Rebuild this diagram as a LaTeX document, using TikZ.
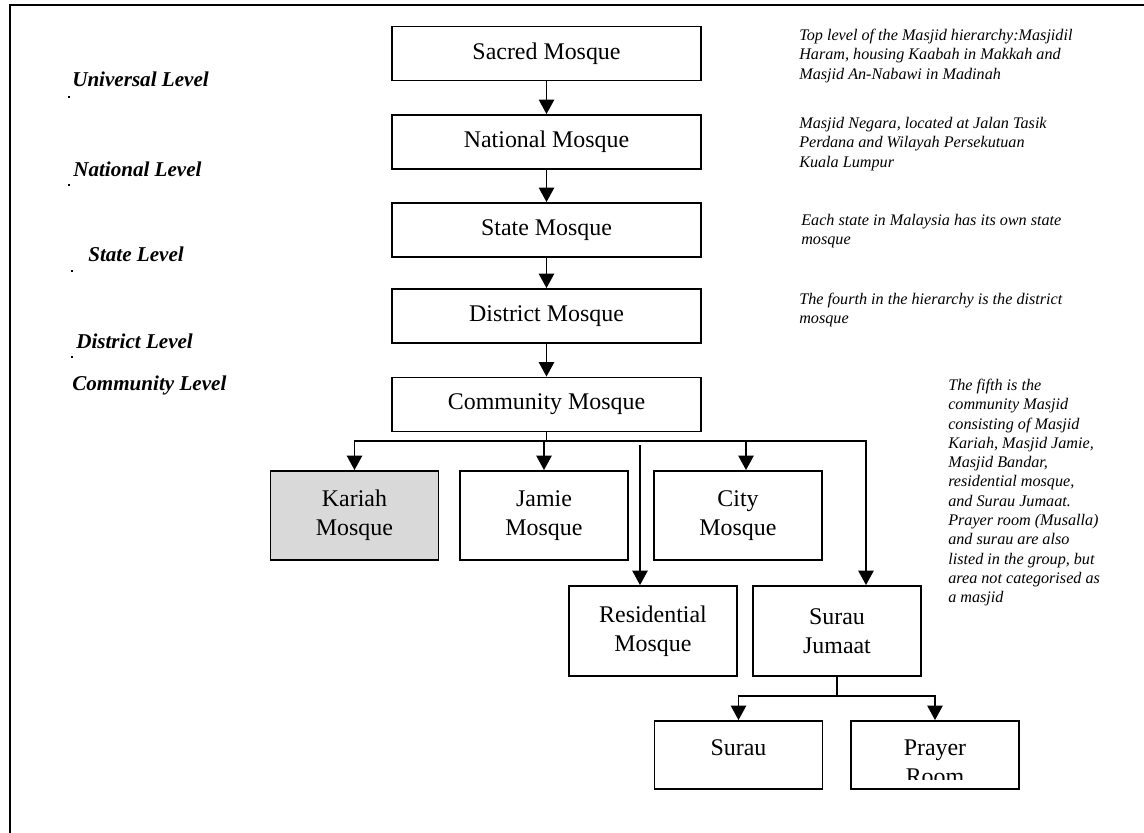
\documentclass[tikz,border=0pt]{standalone}
\usepackage{fontspec}
\setmainfont{Liberation Serif}
\usetikzlibrary{arrows.meta}

\tikzset{
  mosque/.style={draw, line width=1.3pt, minimum width=7.725cm, minimum height=1.35cm,
    align=center, font=\fontsize{17}{20.5}\selectfont},
  midmosque/.style={mosque, minimum width=4.2cm, minimum height=2.225cm},
  lowmosque/.style={mosque, minimum width=4.2cm, minimum height=1.7cm},
  boxtext/.style={inner sep=0pt, align=center, font=\fontsize{17}{20.5}\selectfont},
  level/.style={anchor=base west, inner sep=0pt, font=\fontsize{15}{18}\selectfont\bfseries\itshape},
  note/.style={anchor=north west, inner sep=0pt, align=left, font=\fontsize{11.5}{13.7}\selectfont\itshape},
  wire/.style={line width=1.3pt},
  arr/.style={wire, -{Triangle[width=0.38cm,length=0.36cm]}},
  dbl/.style={wire, {Triangle[width=0.38cm,length=0.36cm]}-{Triangle[width=0.38cm,length=0.36cm]}}
}

\begin{document}
\begin{tikzpicture}[x=0.025cm, y=-0.025cm]
		\useasboundingbox (0,0) rectangle (1144,833);
		\draw[line width=1.5pt] (1144,5) -- (10,5) -- (10,833);
		% levels on the left
		\node[level] (universal) at (72,87) {Universal Level};
		\node[level] (national level) at (73,177) {National Level};
		\node[level] (state level) at (88,262) {State Level};
		\node[level] (district level) at (76,348) {District Level};
		\node[level] (community level) at (72,390) {Community Level};
		\fill (68,96) rectangle (70,98);
		\fill (68,184) rectangle (70,186);
		\fill (71,270) rectangle (73,272);
		\fill (71,356) rectangle (73,358);
		% the hierarchy
		\node[mosque] (sacred) at (546.5,53.5) {Sacred Mosque};
		\node[mosque] (national) at (546.5,142) {National Mosque};
		\node[mosque] (state) at (546.5,230) {State Mosque};
		\node[mosque] (district) at (546.5,316) {District Mosque};
		\node[mosque] (community) at (546.5,404.5) {Community Mosque};
		\node[midmosque, fill=gray!30] (kariah) at (354.5,515.5) {Kariah\\Mosque};
		\node[midmosque] (jamie) at (544,515.5) {Jamie\\Mosque};
		\node[midmosque] (city) at (738,515.5) {City\\Mosque};
		\node[midmosque, minimum height=2.25cm] (resid) at (653,631) {Residential\\Mosque};
		\node[midmosque, minimum height=2.25cm] (surauj) at (837,631) {Surau\\Jumaat};
		\node[lowmosque] (surau) at (738.5,755) {};
		\node[lowmosque] (prayer) at (935,755) {};
		\node[boxtext, anchor=north] (surau name) at ([yshift=-0.49cm]surau.north) {Surau};
		\begin{scope}
			\clip (prayer.north west) rectangle ([yshift=0.25cm]prayer.south east);
			\node[boxtext, anchor=north] (prayer name) at ([yshift=-0.49cm]prayer.north) {Prayer\\Room};
		\end{scope}
		% notes on the right
		\node[note] (sacred note) at (799,29) {Top level of the Masjid hierarchy:Masjidil\\Haram, housing Kaabah in Makkah and\\Masjid An-Nabawi in Madinah};
		\node[note] (national note) at (799,117) {Masjid Negara, located at Jalan Tasik\\Perdana and Wilayah Persekutuan\\Kuala Lumpur};
		\node[note] (state note) at (801,214) {Each state in Malaysia has its own state\\mosque};
		\node[note] (district note) at (799,293) {The fourth in the hierarchy is the district\\mosque};
		\node[note] (community note) at (948,379) {The fifth is the\\community Masjid\\consisting of Masjid\\Kariah, Masjid Jamie,\\Masjid Bandar,\\residential mosque,\\and Surau Jumaat.\\Prayer room (Musalla)\\and surau are also\\listed in the group, but\\area not categorised as\\a masjid};
		% arrows
		\coordinate (cbus) at (545,441);
		\coordinate (sjdrop) at (866,441);
		\coordinate (resdrop) at (640,445);
		\coordinate (sbus) at (835,696);
		\draw[arr] (sacred) -- (national);
		\draw[arr] (national) -- (state);
		\draw[arr] (state) -- (district);
		\draw[arr] (district) -- (community);
		\draw[wire] (community.south) -- (community.south |- cbus);
		\draw[dbl] (kariah.north) -- (kariah.north |- cbus) -- (sjdrop) -- (sjdrop |- surauj.north);
		\draw[arr] (jamie.north |- cbus) -- (jamie.north);
		\draw[arr] ([xshift=0.2cm]city.north |- cbus) -- ([xshift=0.2cm]city.north);
		\draw[arr] (resdrop) -- (resdrop |- resid.north);
		\draw[wire] (surauj.south) -- (surauj.south |- sbus);
		\draw[dbl] (surau.north) -- (surau.north |- sbus) -- (prayer.north |- sbus) -- (prayer.north);
	\end{tikzpicture}
\end{document}
